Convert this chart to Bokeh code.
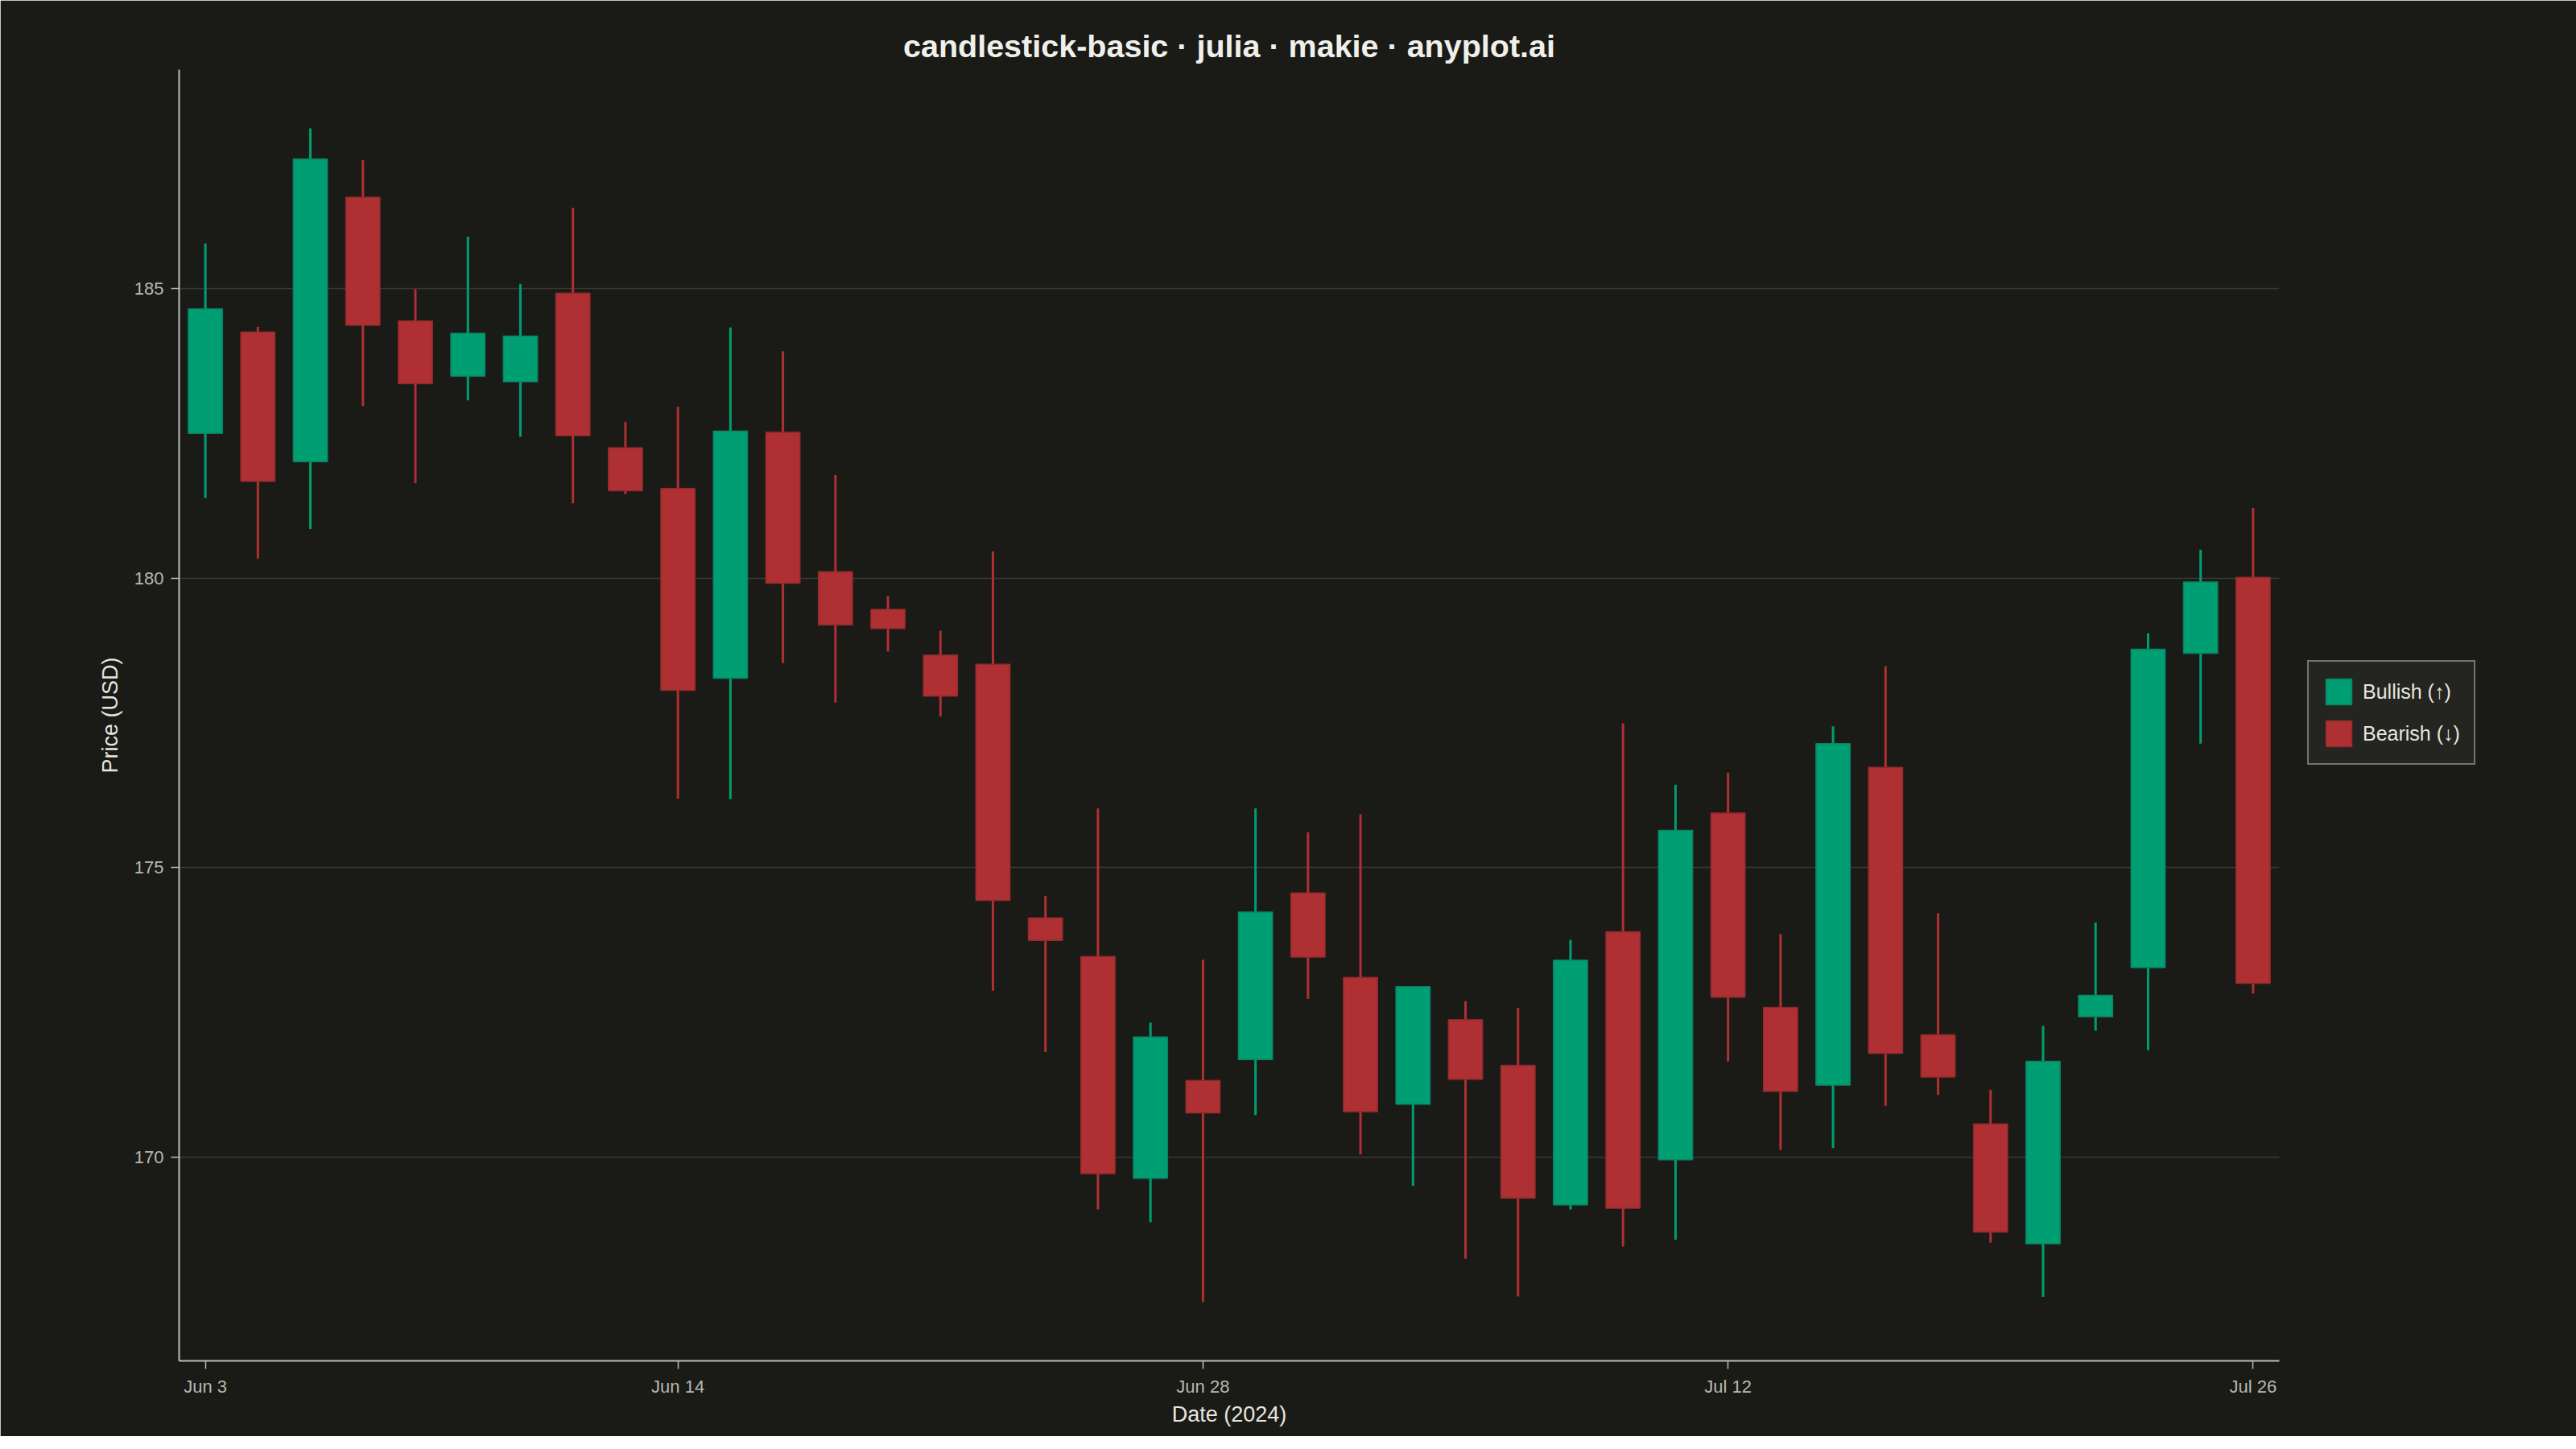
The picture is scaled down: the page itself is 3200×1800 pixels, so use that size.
from bokeh.plotting import figure
from bokeh.models import ColumnDataSource, FixedTicker, Range1d, Legend, LegendItem
from bokeh.embed import file_html
from bokeh.resources import INLINE

# ---- data ----
opens = [182.50, 184.25, 182.01, 186.58, 184.44, 183.49, 183.39, 184.92, 182.25, 181.55,
         178.27, 182.52, 180.11, 179.46, 178.67, 178.51, 174.13, 173.46, 169.63, 171.32,
         171.68, 174.56, 173.10, 170.91, 172.37, 171.58, 169.17, 173.89, 169.95, 175.94,
         172.58, 171.24, 176.73, 172.11, 170.57, 168.50, 172.42, 173.27, 178.70, 180.01]
highs = [185.78, 184.34, 187.77, 187.22, 184.99, 185.90, 185.08, 186.40, 182.70, 182.96,
         184.33, 183.92, 181.78, 179.69, 179.09, 180.46, 174.51, 176.02, 172.32, 173.41,
         176.02, 175.61, 175.92, 172.95, 172.69, 172.57, 173.75, 177.49, 176.43, 176.64,
         173.85, 177.44, 178.48, 174.21, 171.16, 172.26, 174.05, 179.05, 180.49, 181.21]
lows = [181.38, 180.34, 180.85, 182.97, 181.64, 183.07, 182.44, 181.29, 181.45, 176.19,
        176.18, 178.53, 177.85, 178.73, 177.61, 172.87, 171.81, 169.09, 168.87, 167.49,
        170.72, 172.73, 170.04, 169.50, 168.24, 167.59, 169.09, 168.45, 168.57, 171.65,
        170.12, 170.15, 170.88, 171.07, 168.52, 167.58, 172.18, 171.84, 177.14, 172.82]
closes = [184.65, 181.67, 187.24, 184.37, 183.36, 184.23, 184.18, 182.46, 181.51, 178.06,
          182.54, 179.91, 179.19, 179.13, 177.96, 174.43, 173.74, 169.71, 172.07, 170.76,
          174.23, 173.45, 170.78, 172.94, 171.34, 169.29, 173.40, 169.11, 175.64, 172.76,
          171.13, 177.14, 171.79, 171.38, 168.70, 171.65, 172.79, 178.77, 179.93, 173.00]

tick_positions = [0, 9, 19, 29, 39]
tick_labels = ["Jun 3", "Jun 14", "Jun 28", "Jul 12", "Jul 26"]
y_ticks = [170, 175, 180, 185]

# ---- styling ----
BG = "#1a1a17"
GREEN = "#009e73"
GREEN_EDGE = "#0a8363"
RED = "#af3033"
RED_EDGE = "#912a2c"
SPINE = "#bdbdb5"
GRID = "#3a3a35"
FONT = "Liberation Sans"

idx = list(range(len(opens)))
bull = [c > o for o, c in zip(opens, closes)]

def subset(flag):
    d = dict(x=[], top=[], bottom=[], high=[], low=[])
    for i in idx:
        if bull[i] == flag:
            d["x"].append(i)
            d["top"].append(max(opens[i], closes[i]))
            d["bottom"].append(min(opens[i], closes[i]))
            d["high"].append(highs[i])
            d["low"].append(lows[i])
    return ColumnDataSource(d)

src_bull = subset(True)
src_bear = subset(False)

lo, hi = min(lows), max(highs)
pad = 0.05 * (hi - lo)

p = figure(width=3184, height=1784, output_backend="svg", toolbar_location=None,
           x_range=Range1d(-0.5, 39.5), y_range=Range1d(lo - pad, hi + pad),
           frame_width=2609, frame_height=1604,
           min_border_left=222, min_border_right=353, min_border_top=86, min_border_bottom=94,
           background_fill_color=BG, border_fill_color=BG,
           title="candlestick-basic · julia · makie · anyplot.ai")
# outline in background colour hides the anti-aliased seam around the frame
p.outline_line_color = BG
p.outline_line_alpha = 1.0
p.outline_line_width = 3

p.title.text_font = FONT
p.title.text_font_style = "bold"
p.title.text_font_size = "39.5px"
p.title.text_color = "#f0f0ea"
p.title.align = "center"
p.title.standoff = 16

# wicks
p.segment(x0="x", y0="low", x1="x", y1="high", source=src_bull, line_color=GREEN, line_width=3)
p.segment(x0="x", y0="low", x1="x", y1="high", source=src_bear, line_color=RED, line_width=3)
# bodies
r_bull = p.vbar(x="x", top="top", bottom="bottom", width=0.65, source=src_bull,
                fill_color=GREEN, line_color=GREEN_EDGE, line_width=1.5)
r_bear = p.vbar(x="x", top="top", bottom="bottom", width=0.65, source=src_bear,
                fill_color=RED, line_color=RED_EDGE, line_width=1.5)

# axes
for ax in (p.xaxis[0], p.yaxis[0]):
    ax.axis_line_color = SPINE
    ax.axis_line_width = 2
    ax.major_tick_line_color = SPINE
    ax.major_tick_line_width = 1.5
    ax.major_tick_out = 10
    ax.major_tick_in = 0
    ax.minor_tick_line_color = None
    ax.major_label_text_font = FONT
    ax.major_label_text_font_size = "22px"
    ax.major_label_text_color = "#b8b8b0"
    ax.major_label_standoff = 9
    ax.axis_label_text_font = FONT
    ax.axis_label_text_font_size = "27px"
    ax.axis_label_text_font_style = "normal"
    ax.axis_label_text_color = "#e6e6de"

p.xaxis.axis_label = "Date (2024)"
p.yaxis.axis_label = "Price (USD)"
p.xaxis.axis_label_standoff = 4
p.yaxis.axis_label_standoff = 12
p.xaxis.ticker = FixedTicker(ticks=tick_positions)
p.xaxis.major_label_overrides = {t: l for t, l in zip(tick_positions, tick_labels)}
p.yaxis.ticker = FixedTicker(ticks=y_ticks)

p.xgrid.grid_line_color = None
p.ygrid.grid_line_color = GRID
p.ygrid.grid_line_width = 1.5

legend = Legend(items=[LegendItem(label="Bullish (↑)", renderers=[r_bull]),
                       LegendItem(label="Bearish (↓)", renderers=[r_bear])],
                location=(35, 740), orientation="vertical",
                glyph_width=40, glyph_height=40, label_standoff=10, spacing=12,
                padding=17, margin=0,
                label_text_font=FONT, label_text_font_size="25px", label_text_color="#e6e6de",
                background_fill_color="#242421", background_fill_alpha=1.0,
                border_line_color="#c4c4bc", border_line_width=2)
p.add_layout(legend, "right")

open("out.html", "w").write(file_html(p, INLINE))
